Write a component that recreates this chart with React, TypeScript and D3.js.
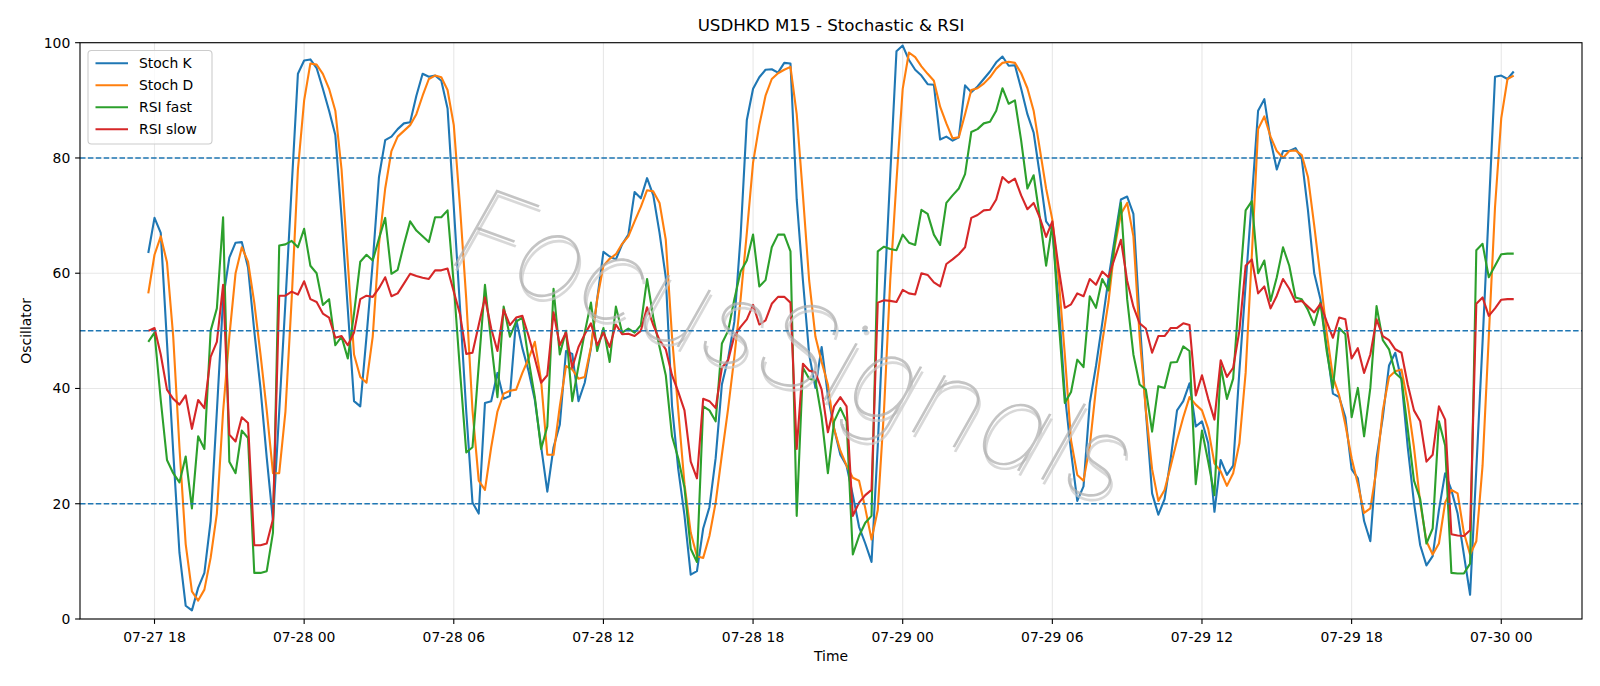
import * as d3 from 'd3';
import { useEffect, useRef } from 'react';

// M15 bars, first bar 07-27 17:45
const startTime = Date.UTC(2024, 6, 27, 17, 45);
const stepMinutes = 15;

const stochK = [
    63.5, 69.6, 67, 48, 29, 11.5, 2.3, 1.5, 5.4, 8,
    17, 36, 55.5, 62.7, 65.3, 65.4, 61, 50, 40, 28,
    17, 36, 55, 75, 94.6, 96.9, 97.1, 95.6, 92, 88.2,
    84, 69.7, 53.8, 37.8, 36.9, 49, 61.9, 76.7, 83.1, 83.7,
    85, 86, 86.2, 90.8, 94.6, 94.1, 94.3, 93.4, 88.6, 71.5,
    54, 36, 20.2, 18.3, 37.5, 37.8, 42.7, 38.2, 38.7, 52,
    47, 43, 38, 30, 22.1, 29.8, 33.7, 46.5, 46, 37.8,
    41, 47, 55.5, 63.7, 62.9, 62.4, 65, 66.7, 74.1, 73,
    76.5, 73.5, 67, 59.3, 37, 26, 18, 7.7, 8.3, 15.7,
    19.4, 27.9, 40.7, 45.2, 51.6, 66.4, 86.6, 92, 94, 95.3,
    95.4, 94.8, 96.5, 96.4, 72.8, 58.7, 45.9, 40.1, 47.2, 38.8,
    33, 28.5, 26.6, 21.5, 16, 13.1, 9.9, 30, 55, 77,
    98.5, 99.5, 97, 95.3, 94.3, 92.8, 92.7, 83.2, 83.7, 83,
    83.6, 92.6, 91.4, 92.4, 93.7, 95, 96.6, 97.6, 96, 96.1,
    92, 87.6, 84.4, 77, 69, 67.5, 55, 39, 29, 20.5,
    23, 37.5, 43.9, 51.3, 59, 66, 72.8, 73.3, 70.3, 52,
    36, 21.8, 18.1, 20.8, 28, 36.2, 37.8, 40.9, 33.4, 34.3,
    30.5, 18.6, 27.6, 25, 26.6, 43, 58, 73, 88.2, 90.2,
    83.1, 78, 81.2, 81.2, 81.7, 79.9, 70.9, 60, 55.5, 47.2,
    39.1, 38.5, 35, 26, 24.4, 17, 13.5, 27.9, 35, 44,
    46.2, 41.4, 29.8, 20.2, 12.8, 9.3, 10.9, 18.9, 25.3, 22.4,
    18.3, 11.2, 4.2, 26, 48, 71, 94.1, 94.3, 93.7, 95
];

const stochD = [
    56.5, 63.2, 66.4, 61.9, 49, 29.8, 13, 4.8, 3.2, 5.1,
    10.6, 18.3, 36, 49, 60, 64.5, 62, 54.9, 45.9, 36.2,
    25.3, 25.3, 36, 55.5, 78, 90, 96.4, 96.2, 94.6, 92,
    88.2, 78, 61.9, 45.9, 42, 41, 49, 65, 74.7, 81.2,
    83.7, 84.7, 85.7, 87.6, 90.8, 93.7, 94.3, 94, 91.8, 85.7,
    71.5, 55.5, 36.2, 24, 22.4, 29.8, 36, 39.1, 39.6, 39.8,
    42.7, 45.2, 48.1, 41.4, 28.5, 28.5, 36.9, 43.9, 43.3, 41.7,
    42, 47.2, 55.5, 61.3, 62.5, 63.3, 65.1, 66.4, 69, 71.5,
    74.4, 74.2, 72.2, 65.8, 49, 36.2, 23.4, 15, 10.9, 10.6,
    14.4, 20.2, 28.5, 36.5, 45.5, 55.5, 67, 79.2, 85.7, 90.8,
    93.7, 94.7, 95.3, 95.8, 87.6, 73.5, 58.7, 49, 44.6, 40.7,
    33, 29.2, 26.6, 24.5, 24, 19.2, 13.8, 18.9, 36.2, 58.7,
    76, 92, 98.3, 97.5, 95.9, 94.6, 93.4, 88.9, 86, 83.4,
    83.6, 87.6, 91.8, 92.1, 92.9, 94, 95.5, 96.5, 96.7, 96.5,
    94.7, 92.1, 88.2, 81.5, 74.7, 69.3, 59.3, 45.9, 31, 25,
    24, 30, 40, 48, 55, 64.5, 70.3, 72.2, 66.4, 49,
    36.2, 26, 20.5, 22.4, 26.6, 31, 35, 38.5, 37.2, 36.2,
    33, 27, 25.6, 23.1, 25.3, 30.5, 42.7, 63.2, 85, 87.2,
    83.7, 81.2, 80, 81.2, 81.3, 80.5, 76.7, 68.3, 59.3, 49.7,
    42, 38.8, 33.7, 27.9, 23.4, 18.4, 19.2, 26, 36.2, 42,
    43, 43.3, 37.5, 29.8, 20.2, 13.5, 11.2, 13.1, 20.2, 22.4,
    21.8, 15, 11.2, 13.5, 26.6, 49, 71.5, 86.9, 93.7, 94.3
];

const rsiFast = [
    48.1, 49.7, 38, 27.6, 25.3, 23.7, 28.2, 19.2, 31.7, 29.5,
    50, 53.9, 69.7, 27.3, 25.3, 32.7, 31.4, 8, 8, 8.3,
    15, 64.8, 65, 65.6, 64.5, 67.7, 61.3, 60, 54.5, 55.5,
    47.5, 49, 45.2, 53, 62, 63.2, 62.2, 66, 69.6, 59.9,
    60.6, 65, 69, 67.4, 66.4, 65.4, 69.7, 69.7, 70.9, 58,
    43, 28.9, 29.8, 44, 58, 48, 38.5, 54.2, 49, 51.6,
    52.3, 45, 38.5, 29.5, 33.4, 57.3, 45.9, 50, 37.8, 43.9,
    49.7, 54.9, 46.5, 50.5, 44.6, 54.2, 49.7, 50.4, 49.7, 51,
    59, 52.3, 47.2, 42.3, 31.7, 27.9, 22.8, 12.2, 9.9, 36.9,
    36.2, 34.3, 47.8, 50, 55.5, 60.3, 62.2, 66.7, 57.7, 58.8,
    64.5, 66.7, 66.7, 63.8, 17.9, 43.6, 41.7, 41.4, 35, 25.3,
    34.3, 36.6, 34.3, 11.2, 14.4, 16.7, 17.9, 63.8, 64.6, 64.2,
    64, 66.7, 65.3, 64.9, 71, 70.3, 66.7, 64.9, 72.2, 73.5,
    74.7, 77.2, 84.5, 85, 86, 86.3, 88.2, 92.1, 89.4, 90,
    83, 74.7, 77, 69.6, 61.3, 68.5, 52, 37.5, 39.4, 45,
    43.7, 56, 54, 59, 57, 65.1, 72.2, 55.5, 45.9, 40.7,
    39.8, 32.5, 40.4, 40.1, 44.5, 44.6, 47.3, 46.5, 23.4, 32.7,
    27.3, 21.5, 43.9, 38.2, 41.7, 57, 70.9, 72.5, 60, 62.2,
    55.2, 59.3, 64.5, 61.3, 55.8, 55.5, 53.6, 51, 54.9, 46.5,
    40.1, 50.5, 49.4, 35, 40.1, 31.7, 40.1, 54.3, 48.4, 46.8,
    42.7, 41.7, 33, 24, 20.8, 13.1, 15.7, 34.3, 30.1, 8,
    7.9, 7.9, 9.6, 64, 65.1, 59.3, 61.3, 63.3, 63.4, 63.4
];

const rsiSlow = [
    50, 50.5, 45.9, 39.8, 38.2, 37.2, 38.8, 33, 38, 36.6,
    45.5, 48.1, 58, 32, 30.8, 35, 34, 12.8, 12.8, 13.1,
    17.3, 56.1, 56.1, 56.8, 56.3, 58.6, 55.5, 55, 53, 52.3,
    48.8, 49.1, 47.5, 49.7, 55.5, 56.1, 55.9, 57.4, 59.3, 56,
    56.5, 58.2, 59.9, 59.5, 59.2, 59, 60.5, 60.5, 60.8, 56.8,
    52.9, 46, 46.2, 51, 55.8, 50.4, 46.5, 53.7, 51, 52.3,
    52.6, 49.1, 45.2, 41, 42.3, 53.2, 47.5, 49.7, 43.6, 47.2,
    49.4, 51.3, 47.5, 49.7, 47.2, 51.1, 49.4, 49.5, 49.1, 50,
    54.1, 51, 48.4, 46.8, 42.3, 39.4, 36.2, 27.3, 24.4, 38.2,
    37.8, 36.6, 43.6, 44.9, 49.1, 50.7, 52, 54.5, 51.1, 51.8,
    54.7, 55.9, 55.9, 54.9, 29.5, 44.3, 43.1, 42.8, 39.8, 32.4,
    36.9, 38.5, 36.9, 17.9, 20.2, 21.5, 22.4, 54.9, 55.3, 55.2,
    55, 57.1, 56.5, 56.3, 60, 59.7, 58.4, 57.7, 61.6, 62.4,
    63.3, 64.5, 69.6, 70.1, 70.9, 71, 72.8, 76.7, 75.7, 76.4,
    73.5, 71.1, 72.2, 69.6, 66.3, 69, 61, 54, 54.6, 56.5,
    56, 59, 58, 60.3, 59.3, 62.6, 65.8, 58.7, 54.2, 51.3,
    50.4, 46.2, 49.1, 49.1, 50.5, 50.5, 51.3, 51, 38.8, 42.3,
    38.2, 34.6, 44.9, 42, 43.6, 50, 61.3, 62.4, 56.5, 57.7,
    53.9, 56.1, 59, 57.3, 55, 55.2, 54.2, 53.2, 54.7, 51.6,
    48.8, 52.3, 52, 45.2, 47, 42.7, 45.9, 52, 49.1, 48.4,
    46.8, 46.2, 40.7, 36.2, 34.3, 27.3, 28.5, 36.9, 34.6, 14.7,
    14.5, 14.4, 15.4, 54.7, 55.8, 52.6, 53.9, 55.4, 55.5, 55.5
];

const seriesNames = ['Stoch K', 'Stoch D', 'RSI fast', 'RSI slow'];
const seriesColors = ['#1f77b4', '#ff7f0e', '#2ca02c', '#d62728'];
const levelLines = [20, 50, 80];
const yTicks = [0, 20, 40, 60, 80, 100];

export default function App() {

    const ref = useRef<HTMLDivElement>(null);

    useEffect(() => {
        const width = 1600;
        const height = 686;
        const margin = { top: 42.7, right: 18, bottom: 67, left: 80 };
        const font = 'DejaVu Sans';
        const fontSize = 13.9;

        const allSeries = [stochK, stochD, rsiFast, rsiSlow];
        const times = stochK.map((_, i) => new Date(startTime + i * stepMinutes * 60000));

        // matplotlib style 5% x margins
        const t0 = times[0].getTime();
        const t1 = times[times.length - 1].getTime();
        const pad = (t1 - t0) * 0.05;

        const x = d3.scaleUtc()
            .domain([new Date(t0 - pad), new Date(t1 + pad)])
            .range([margin.left, width - margin.right]);
        const y = d3.scaleLinear()
            .domain([0, 100])
            .range([height - margin.bottom, margin.top]);

        const xTicks = x.ticks(d3.utcHour.every(6) as d3.TimeInterval);
        const fmt = d3.utcFormat('%m-%d %H');

        d3.select(ref.current).selectAll('*').remove();

        const svg = d3.create('svg')
            .attr('width', width)
            .attr('height', height)
            .style('position', 'absolute')
            .style('left', '0px')
            .style('top', '0px')
            .style('font-family', font);

        svg.append('rect').attr('width', width).attr('height', height).attr('fill', 'white');

        // grid
        const grid = svg.append('g').attr('stroke', '#b0b0b0').attr('stroke-opacity', 0.3).attr('stroke-width', 1.1);
        grid.selectAll('line.vx')
            .data(xTicks)
            .join('line')
            .attr('x1', d => x(d)).attr('x2', d => x(d))
            .attr('y1', margin.top).attr('y2', height - margin.bottom);
        grid.selectAll('line.hy')
            .data(yTicks)
            .join('line')
            .attr('x1', margin.left).attr('x2', width - margin.right)
            .attr('y1', d => y(d)).attr('y2', d => y(d));

        // series
        const line = d3.line<number>()
            .x((_, i) => x(times[i]))
            .y(d => y(d));

        svg.append('g')
            .selectAll('path')
            .data(allSeries)
            .join('path')
            .attr('d', d => line(d))
            .attr('fill', 'none')
            .attr('stroke', (_, i) => seriesColors[i])
            .attr('stroke-width', 2.1)
            .attr('stroke-linejoin', 'round');

        // watermark: thin letters with a soft offset shadow
        const wm = svg.append('g')
            .attr('transform', 'translate(780,384) rotate(20)')
            .attr('font-family', 'Inter, Lato, DejaVu Sans')
            .attr('font-size', 118)
            .attr('font-style', 'italic')
            .attr('font-weight', 100)
            .attr('text-anchor', 'middle');
        wm.append('text')
            .attr('x', 3).attr('y', 4)
            .attr('fill', '#c8c8c8')
            .attr('fill-opacity', 0.7)
            .text('FocusSignals');
        wm.append('text')
            .attr('fill', '#b0b0b0')
            .attr('fill-opacity', 0.75)
            .text('FocusSignals');

        // level lines
        svg.append('g')
            .selectAll('line')
            .data(levelLines)
            .join('line')
            .attr('x1', margin.left).attr('x2', width - margin.right)
            .attr('y1', d => y(d)).attr('y2', d => y(d))
            .attr('stroke', '#1f77b4')
            .attr('stroke-width', 1.5)
            .attr('stroke-dasharray', '5.5,2.4');

        // spines
        svg.append('rect')
            .attr('x', margin.left).attr('y', margin.top)
            .attr('width', width - margin.left - margin.right)
            .attr('height', height - margin.top - margin.bottom)
            .attr('fill', 'none')
            .attr('stroke', 'black')
            .attr('stroke-width', 1.1);

        // y axis ticks
        const yAx = svg.append('g');
        yAx.selectAll('line')
            .data(yTicks)
            .join('line')
            .attr('x1', margin.left - 4.9).attr('x2', margin.left)
            .attr('y1', d => y(d)).attr('y2', d => y(d))
            .attr('stroke', 'black').attr('stroke-width', 1.1);
        yAx.selectAll('text')
            .data(yTicks)
            .join('text')
            .attr('x', margin.left - 9.7)
            .attr('y', d => y(d) + 5)
            .attr('text-anchor', 'end')
            .attr('font-size', fontSize)
            .text(d => d);

        // x axis ticks
        const xAx = svg.append('g');
        xAx.selectAll('line')
            .data(xTicks)
            .join('line')
            .attr('x1', d => x(d)).attr('x2', d => x(d))
            .attr('y1', height - margin.bottom).attr('y2', height - margin.bottom + 4.9)
            .attr('stroke', 'black').attr('stroke-width', 1.1);
        xAx.selectAll('text')
            .data(xTicks)
            .join('text')
            .attr('x', d => x(d))
            .attr('y', height - margin.bottom + 22.5)
            .attr('text-anchor', 'middle')
            .attr('font-size', fontSize)
            .text(d => fmt(d));

        // labels + title
        svg.append('text')
            .attr('x', (margin.left + width - margin.right) / 2)
            .attr('y', 661)
            .attr('text-anchor', 'middle')
            .attr('font-size', fontSize)
            .text('Time');
        svg.append('text')
            .attr('transform', `translate(31,${(margin.top + height - margin.bottom) / 2}) rotate(-90)`)
            .attr('text-anchor', 'middle')
            .attr('font-size', fontSize)
            .text('Oscillator');
        svg.append('text')
            .attr('x', (margin.left + width - margin.right) / 2)
            .attr('y', 31)
            .attr('text-anchor', 'middle')
            .attr('font-size', 16.7)
            .text('USDHKD M15 - Stochastic & RSI');

        // legend
        const lg = svg.append('g');
        lg.append('rect')
            .attr('x', 88).attr('y', 50.5)
            .attr('width', 124).attr('height', 93.5)
            .attr('rx', 3.5)
            .attr('fill', 'white').attr('fill-opacity', 0.8)
            .attr('stroke', '#cccccc').attr('stroke-width', 1.1);
        const items = lg.selectAll('g.item')
            .data(seriesNames)
            .join('g')
            .attr('transform', (_, i) => `translate(0,${63.3 + i * 22})`);
        items.append('line')
            .attr('x1', 95.5).attr('x2', 128)
            .attr('stroke', (_, i) => seriesColors[i])
            .attr('stroke-width', 2.1);
        items.append('text')
            .attr('x', 139).attr('y', 5)
            .attr('font-size', fontSize)
            .text(d => d);

        ref.current?.append(svg.node() as SVGSVGElement);
    }, []);

    return (
        <div ref={ref}></div>
    );
}
